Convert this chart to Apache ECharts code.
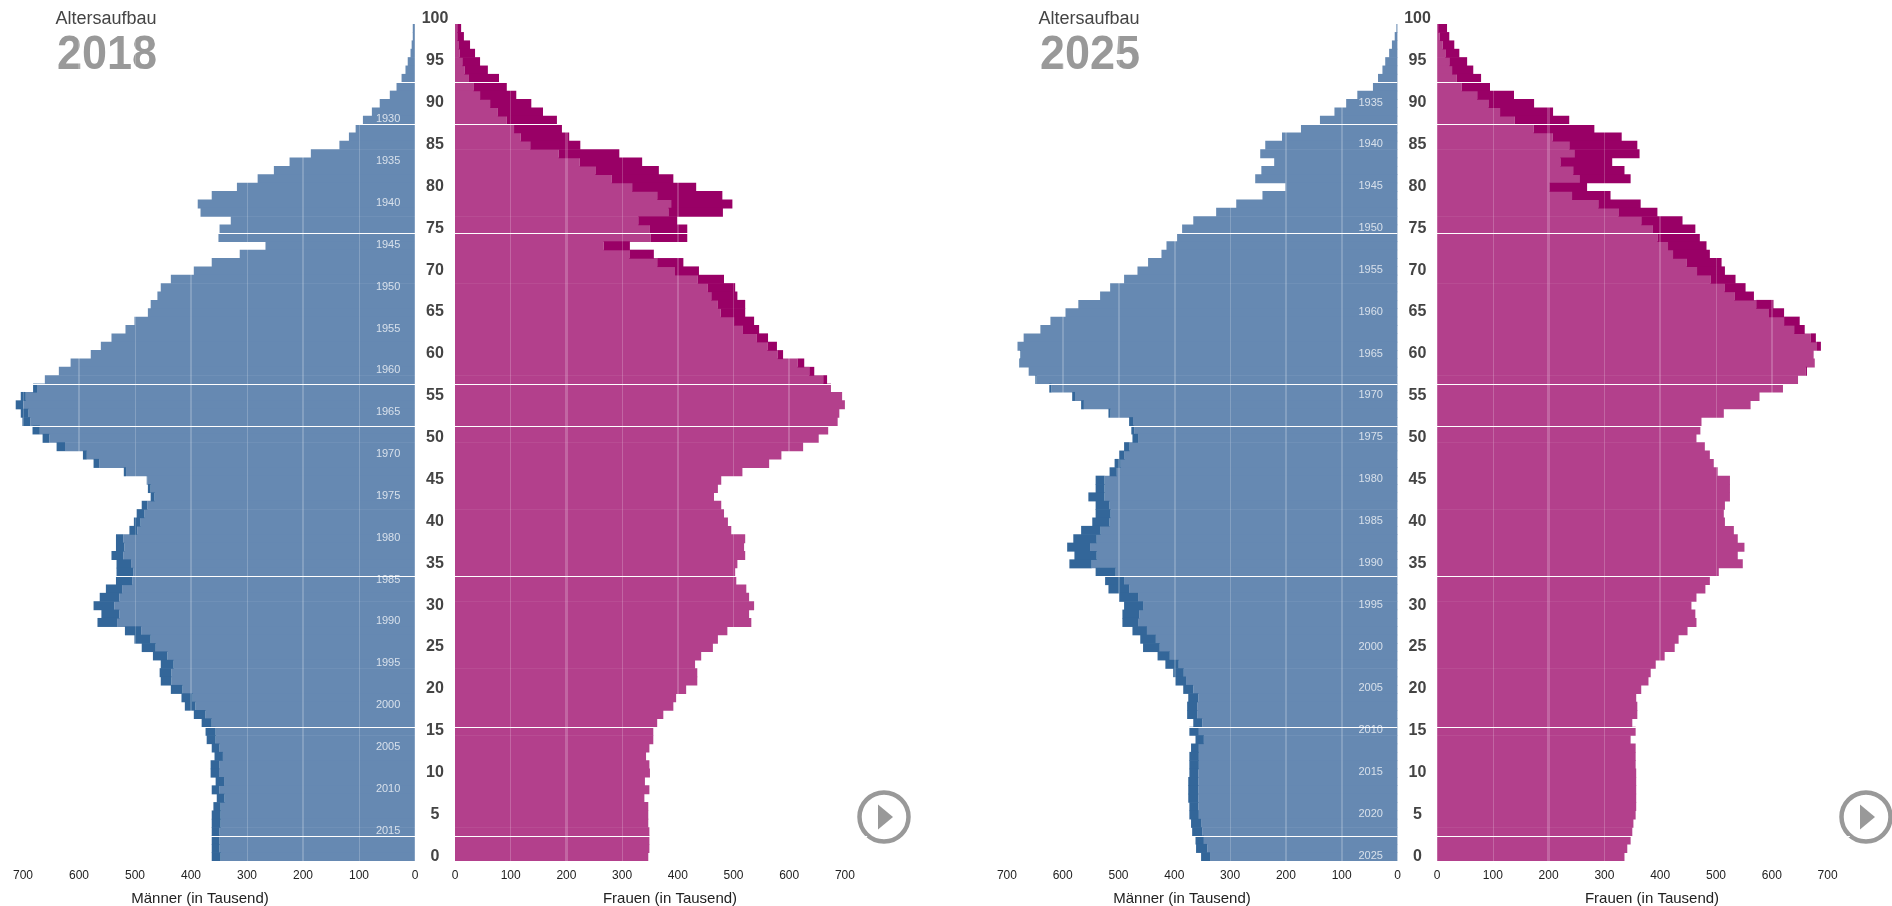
<!DOCTYPE html>
<html>
<head>
<meta charset="utf-8">
<style>html,body{margin:0;padding:0;background:#fff}#c{width:1892px;height:906px}</style>
<script src="https://cdn.jsdelivr.net/npm/echarts@6/dist/echarts.min.js"></script>
</head>
<body>
<div id="c"></div>
<script>
// Rows run from age 99 (top) down to age 0 (bottom)
const ages = [99,98,97,96,95,94,93,92,91,90,89,88,87,86,85,84,83,82,81,80,79,78,77,76,75,74,73,72,71,70,69,68,67,66,65,64,63,62,61,60,59,58,57,56,55,54,53,52,51,50,49,48,47,46,45,44,43,42,41,40,39,38,37,36,35,34,33,32,31,30,29,28,27,26,25,24,23,22,21,20,19,18,17,16,15,14,13,12,11,10,9,8,7,6,5,4,3,2,1,0];
const men2018 = [4,4,6,8,13,17,24,33,45,63,77,93,106,118,135,186,224,252,281,318,363,388,383,329,349,351,267,313,363,395,436,454,460,472,477,501,517,542,561,579,615,636,661,682,704,713,704,701,683,665,640,593,574,520,479,477,472,488,497,502,510,534,534,542,533,533,534,552,563,574,560,567,518,501,488,468,454,456,454,436,417,411,395,381,374,372,363,358,365,365,356,363,354,360,363,363,363,363,363,363];
const women2018 = [11,16,27,36,45,59,79,93,110,137,158,183,192,205,225,295,336,366,392,433,480,498,481,399,417,417,314,357,410,438,483,503,507,521,521,537,546,562,578,589,627,645,668,675,695,700,690,687,670,653,625,586,564,516,478,472,465,478,483,490,496,521,519,521,507,503,505,523,528,537,528,532,489,472,463,442,431,435,435,415,397,392,374,363,356,356,349,343,349,350,341,349,340,347,347,347,349,349,349,347];
const men2025 = [2,5,10,15,22,27,35,44,72,92,113,139,173,207,237,246,221,244,255,201,242,289,325,366,386,395,414,423,447,466,490,515,533,572,595,622,640,670,681,676,678,661,649,624,583,567,518,481,477,475,490,499,507,516,541,541,554,541,541,547,567,581,592,579,588,541,524,518,499,490,493,493,475,461,456,430,416,402,398,384,375,377,377,366,373,362,370,373,373,373,375,375,375,373,373,370,368,362,361,352];
const women2025 = [18,22,31,40,54,65,79,95,138,174,208,237,282,331,359,363,314,336,347,269,311,365,395,440,463,471,483,489,510,516,535,553,568,603,622,650,659,679,688,675,677,663,647,620,578,562,514,474,472,465,480,489,496,503,525,525,525,516,514,516,532,539,551,539,548,505,489,481,465,456,463,465,449,433,426,408,392,383,379,366,357,359,359,350,356,347,356,356,356,357,357,357,357,357,356,352,350,347,341,336];
const birthYears2018 = [1930,1935,1940,1945,1950,1955,1960,1965,1970,1975,1980,1985,1990,1995,2000,2005,2010,2015];
const birthYears2025 = [1935,1940,1945,1950,1955,1960,1965,1970,1975,1980,1985,1990,1995,2000,2005,2010,2015,2020,2025];
const dividerAges = [93,88,75,57,52,34,16,3];

const COL = {menBase:'#6689b2', menDark:'#336699', womenBase:'#b3408c', womenDark:'#990066', grid:'rgba(255,255,255,0.2)'};
const FONT = '"Liberation Sans", Arial, sans-serif';
const TOP = 24, HEIGHT = 837, XMAX = 740;

const grids = [], xAxes = [], yAxes = [], series = [];

function addPanel(left, width, inverse, values, others, baseCol, darkCol, gridLines) {
  const g = grids.length;
  grids.push({left, width, top: TOP, height: HEIGHT});
  xAxes.push({
    gridIndex: g, type: 'value', inverse, min: 0, max: XMAX, interval: 100,
    axisLine: {show: false}, axisTick: {show: false}, splitLine: {show: false},
    axisLabel: {show: true, showMaxLabel: false, margin: 9, fontSize: 12, color: '#222', fontFamily: FONT, hideOverlap: false}
  });
  const yCat = yAxes.length;
  yAxes.push({gridIndex: g, type: 'category', data: ages.map(String), inverse: true, show: false});
  const yVal = yAxes.length;
  yAxes.push({gridIndex: g, type: 'value', min: 0, max: 100, show: false});
  const base = values.map((v, i) => Math.min(v, others[i]));
  const surplus = values.map((v, i) => Math.max(v - others[i], 0));
  const stack = 's' + g;
  series.push({type: 'bar', xAxisIndex: g, yAxisIndex: yCat, stack, data: base, barWidth: 9,
    itemStyle: {color: baseCol}, silent: true, z: 2});
  series.push({type: 'bar', xAxisIndex: g, yAxisIndex: yCat, stack, data: surplus, barWidth: 9,
    itemStyle: {color: darkCol}, silent: true, z: 2});
  series.push({type: 'line', xAxisIndex: g, yAxisIndex: yVal, data: dividerAges.map(a => [0, a]),
    symbol: 'none', lineStyle: {opacity: 0}, silent: true, z: 4,
    markLine: {silent: true, symbol: 'none', animation: false, label: {show: false}, z: 4,
      data: gridLines.map(([v, w]) => ({xAxis: v, lineStyle: {color: COL.grid, width: w, type: 'solid'}}))
        .concat(dividerAges.map(a => ({yAxis: a, lineStyle: {color: '#fff', width: 1, type: 'solid'}})))}});
  return {g, yCat};
}

function addAgeAxis(cx) {
  const g = grids.length;
  grids.push({left: cx, width: 1, top: 19, height: 837.4});
  xAxes.push({gridIndex: g, type: 'value', show: false, min: 0, max: 1});
  yAxes.push({gridIndex: g, type: 'value', min: 0, max: 100, interval: 5,
    axisLine: {show: false}, axisTick: {show: false}, splitLine: {show: false},
    axisLabel: {margin: 0, align: 'center', verticalAlign: 'middle', fontSize: 16, fontWeight: 'bold', color: '#444', fontFamily: FONT}});
}

function addYearLabels(panel, snapshot, years) {
  series.push({type: 'scatter', xAxisIndex: panel.g, yAxisIndex: panel.yCat, symbolSize: 1, silent: true, z: 6,
    itemStyle: {color: 'transparent'},
    data: years.map(y => [48, String(snapshot - y), y]),
    label: {show: true, position: 'inside', offset: [0, -1], formatter: p => String(p.value[2]),
      fontSize: 11, color: 'rgba(255,255,255,0.92)', fontFamily: FONT}});
}

const w18 = XMAX * 0.56, w18f = XMAX * 0.557, w25 = XMAX * 0.558;
const m18 = addPanel(415 - w18, w18, true, men2018, women2018, COL.menBase, COL.menDark,
  [[0,2],[100,1],[200,2],[300,1],[400,2],[500,1],[600,2],[700,1]]);
addPanel(455, w18f, false, women2018, men2018, COL.womenBase, COL.womenDark,
  [[100,1],[200,3],[300,1],[400,2],[500,1],[600,2],[700,1]]);
const m25 = addPanel(1397.5 - w25, w25, true, men2025, women2025, COL.menBase, COL.menDark,
  [[0,1],[100,2],[200,2],[300,1],[400,2],[500,2],[600,2],[700,1]]);
addPanel(1437, w25, false, women2025, men2025, COL.womenBase, COL.womenDark,
  [[0,1],[100,1],[200,3],[300,1],[400,2],[500,1],[600,2],[700,1]]);
addAgeAxis(435);
addAgeAxis(1417.5);
addYearLabels(m18, 2018, birthYears2018);
addYearLabels(m25, 2025, birthYears2025);

function txt(text, left, top, size, color, bold, align) {
  return {text, left, top, textAlign: align || 'left', padding: 0,
    textStyle: {fontSize: size, color, fontWeight: bold ? 'bold' : 'normal', fontFamily: FONT}};
}
const titles = [
  txt('Altersaufbau', 55.5, 10, 18, '#444'),
  txt('Altersaufbau', 1038.5, 10, 18, '#444'),
  txt('Männer (in Tausend)', 200, 891, 15, '#222', false, 'center'),
  txt('Frauen (in Tausend)', 670, 891, 15, '#222', false, 'center'),
  txt('Männer (in Tausend)', 1182, 891, 15, '#222', false, 'center'),
  txt('Frauen (in Tausend)', 1652, 891, 15, '#222', false, 'center')
];

function yearHeading(text, x) {
  return {type: 'text', x, y: 56, scaleY: 1.05, silent: true,
    style: {text, fill: '#999', font: 'bold 45px ' + FONT, verticalAlign: 'middle', align: 'left'}};
}

function playButton(cx, cy) {
  return [
    {type: 'circle', shape: {cx, cy, r: 24.5}, style: {fill: 'none', stroke: '#999', lineWidth: 4.5}, silent: true},
    {type: 'polygon', shape: {points: [[cx - 6, cy - 12.5], [cx + 9, cy], [cx - 6, cy + 12.5]]}, style: {fill: '#999'}, silent: true}
  ];
}

const chart = echarts.init(document.getElementById('c'), null, {renderer: 'canvas'});
chart.setOption({
  animation: false,
  backgroundColor: '#fff',
  title: titles,
  grid: grids,
  xAxis: xAxes,
  yAxis: yAxes,
  series,
  graphic: [yearHeading('2018', 57), yearHeading('2025', 1040)].concat(playButton(884, 817), playButton(1866, 817))
});
</script>
</body>
</html>
